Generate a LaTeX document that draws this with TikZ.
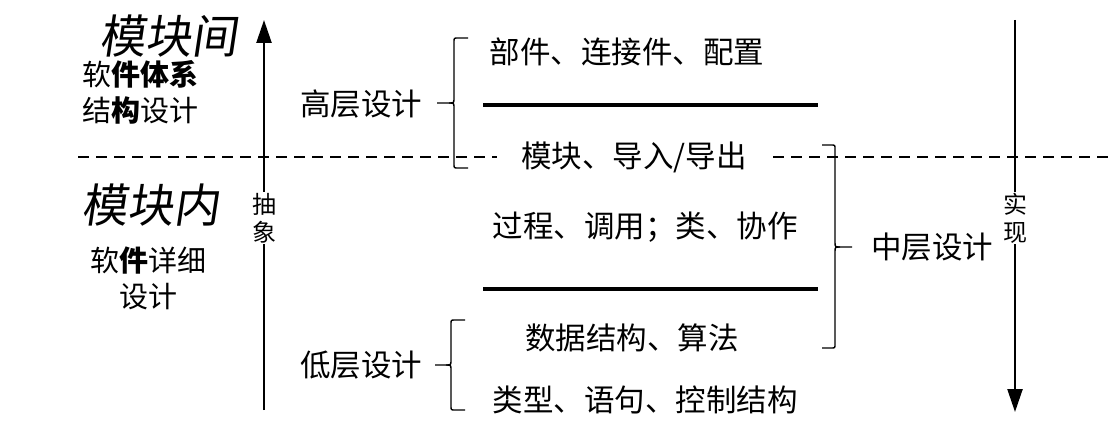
\documentclass[tikz,border=0pt]{standalone}
\usepackage{fontspec}
\setmainfont{Noto Sans CJK SC}
\newfontfamily\cjk{Noto Sans CJK SC}
\newfontfamily\cjkhand[FakeSlant=0.15]{Noto Sans CJK SC}
\usetikzlibrary{arrows.meta}
\begin{document}
\begin{tikzpicture}[x=1pt,y=-1pt,
  txt/.style={font=\cjk\fontsize{30.5}{34}\selectfont, inner sep=1pt},
  vlabel/.style={font=\cjk\fontsize{24}{28}\selectfont, align=center, inner sep=1pt},
  lefttxt/.style={font=\cjk\fontsize{29}{36}\selectfont, align=center, inner sep=0pt},
  hand/.style={font=\cjkhand\fontsize{46}{50}\selectfont, inner sep=0pt},
  bracepath/.style={line width=1.4pt},
  thick line/.style={line width=4pt},
  axis/.style={line width=2.4pt},
  dashline/.style={line width=1.2pt, dash pattern=on 11pt off 7pt}]
\useasboundingbox (0,0) rectangle (1108,444);

% left texts
\node[hand] (hand1) at (168,36) {模块间};
\node[lefttxt, anchor=north west] (arch) at (82,60) {软\textbf{件体系}\\结\textbf{构}设计};
\node[hand] (hand2) at (150,205) {模块内};
\node[lefttxt] (detail) at (148,278) {软\textbf{件}详细\\设计};

% dashed separator
\coordinate (d0) at (78,157);
\coordinate (d1) at (497,157);
\coordinate (d2) at (773,157);
\coordinate (d3) at (1108,157);
\draw[dashline] (d0) -- (d1);
\draw[dashline] (d2) -- (d3);

% abstraction arrow
\coordinate (abot) at (264,410);
\coordinate (atop) at (264,20);
\node[vlabel] (abs) at (264,218) {抽\\象};
\draw[axis] (abot) -- (abs.south);
\draw[axis, -{Triangle[length=23pt,width=15pt]}] (abs.north) -- (atop);

% implementation arrow
\coordinate (itop) at (1015,20);
\coordinate (ibot) at (1015,412);
\node[vlabel] (impl) at (1015,218) {实\\现};
\draw[axis] (itop) -- (impl.north);
\draw[axis, -{Triangle[length=23pt,width=15pt]}] (impl.south) -- (ibot);

% right side texts
\node[txt] (t1) at (627,52) {部件、连接件、配置};
\node[txt] (t2) at (634,157) {模块、导入/导出};
\node[txt] (t3) at (645,227) {过程、调用；类、协作};
\node[txt] (t4) at (632,338) {数据结构、算法};
\node[txt] (t5) at (645,400) {类型、语句、控制结构};

% thick separators
\coordinate (s1a) at (483,105); \coordinate (s1b) at (818,105);
\coordinate (s2a) at (483,289); \coordinate (s2b) at (818,289);
\draw[thick line] (s1a) -- (s1b);
\draw[thick line] (s2a) -- (s2b);

% high-level brace
\node[txt] (high) at (361,104) {高层设计};
\draw[bracepath] (468,38) -- (458,38) .. controls (454,38) .. (454,42) -- (454,98)
  .. controls (454,103) .. (449,103) -- (437,103);
\draw[bracepath] (449,103) .. controls (454,103) .. (454,108) -- (454,164)
  .. controls (454,168) .. (458,168) -- (468,168);

% low-level brace
\node[txt] (low) at (361,365) {低层设计};
\draw[bracepath] (465,320) -- (455,320) .. controls (451,320) .. (451,324) -- (451,360)
  .. controls (451,365) .. (446,365) -- (435,365);
\draw[bracepath] (446,365) .. controls (451,365) .. (451,370) -- (451,406)
  .. controls (451,410) .. (455,410) -- (465,410);

% middle-level brace (right)
\node[txt] (mid) at (932,247) {中层设计};
\draw[bracepath] (822,145) -- (831,145) .. controls (835,145) .. (835,149) -- (835,242)
  .. controls (835,247) .. (840,247) -- (852,247);
\draw[bracepath] (840,247) .. controls (835,247) .. (835,252) -- (835,344)
  .. controls (835,348) .. (831,348) -- (822,348);
\end{tikzpicture}
\end{document}
